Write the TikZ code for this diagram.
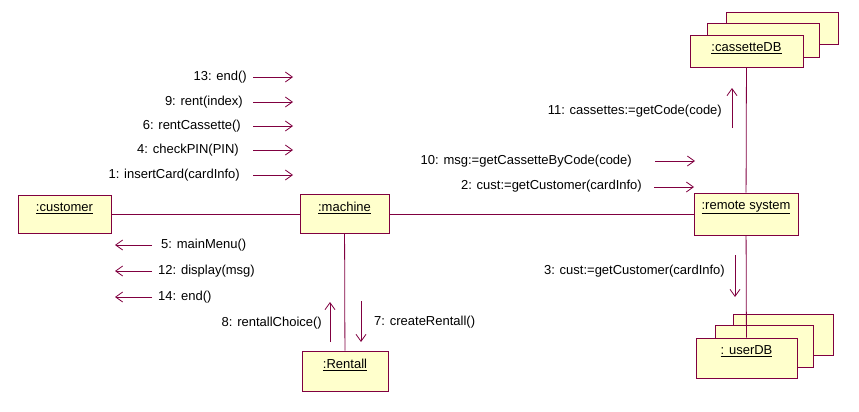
\documentclass[tikz,border=0pt]{standalone}
\usepackage{fontspec}
\setmainfont{Liberation Sans}
\usetikzlibrary{arrows.meta}
\definecolor{umlline}{HTML}{800040}
\definecolor{umlfill}{HTML}{FFFFCC}
\newcommand{\objname}[1]{\underline{#1}}

\begin{document}
\begin{tikzpicture}[x=1pt,y=-1pt,font=\fontsize{13}{15}\selectfont,
    >={Straight Barb[length=7pt,width=10pt]},
    obj node/.style={rectangle,draw=umlline,fill=umlfill,line width=0.8pt,inner sep=0pt},
    back box/.style={draw=umlline,fill=umlfill,line width=0.8pt},
    top label/.style={anchor=north,yshift=-5pt,inner sep=3pt},
    link/.style={draw=umlline,line width=0.8pt},
    msg/.style={->,draw=umlline,line width=0.8pt},
    lbl/.style={inner sep=0pt}]
      \useasboundingbox (0,0) rectangle (859,412);

      % objects
      \node[obj node,minimum width=93,minimum height=38,
        label={[top label]north:\objname{:customer}}] (cust) at (64.5,214) {};
      \node[obj node,minimum width=89,minimum height=39,
        label={[top label]north:\objname{:machine}}] (mach) at (344.5,214) {};
      \node[obj node,minimum width=104,minimum height=42,
        label={[top label]north:\objname{:remote system}}] (remote) at (746,214) {};
      \node[obj node,minimum width=86,minimum height=40,
        label={[top label]north:\objname{:Rentall}}] (rentall) at (345,371) {};

      \draw[back box] (726,12) rectangle (838,44);
      \draw[back box] (707,23) rectangle (819,57);
      \node[obj node,minimum width=113,minimum height=32,
        label={[top label]north:\objname{:cassetteDB}}] (cassdb) at (746.5,51) {};

      \draw[back box] (733,314) rectangle (833,355);
      \draw[back box] (715,325) rectangle (813,367);
      \node[obj node,minimum width=101,minimum height=40,
        label={[top label]north:\objname{: userDB}}] (userdb) at (746.5,358) {};

      % links
      \path[link]
        (cust) edge (mach)
        (mach) edge (remote)
        (mach) edge (rentall)
        (remote) edge (cassdb)
        (remote) edge (userdb);

      % message ends
      \coordinate (a13) at (253,77);  \coordinate (b13) at (293,77);
      \coordinate (a9) at (253,102);  \coordinate (b9) at (293,102);
      \coordinate (a6) at (253,126);  \coordinate (b6) at (293,126);
      \coordinate (a4) at (253,150);  \coordinate (b4) at (293,150);
      \coordinate (a1) at (253,175);  \coordinate (b1) at (293,175);
      \coordinate (a5) at (152,245);  \coordinate (b5) at (115,245);
      \coordinate (a12) at (152,271); \coordinate (b12) at (115,271);
      \coordinate (a14) at (152,297); \coordinate (b14) at (115,297);
      \coordinate (a8) at (330,342);  \coordinate (b8) at (330,302);
      \coordinate (a7) at (361,301);  \coordinate (b7) at (361,342);
      \coordinate (a10) at (655,161); \coordinate (b10) at (695,161);
      \coordinate (a2) at (654,187);  \coordinate (b2) at (694,187);
      \coordinate (a11) at (732,128); \coordinate (b11) at (732,88);
      \coordinate (c3) at (735,255);  \coordinate (d3) at (735,297);

      % messages
      \draw[msg] (a13) -- (b13);
      \draw[msg] (a9) -- (b9);
      \draw[msg] (a6) -- (b6);
      \draw[msg] (a4) -- (b4);
      \draw[msg] (a1) -- (b1);
      \draw[msg] (a5) -- (b5);
      \draw[msg] (a12) -- (b12);
      \draw[msg] (a14) -- (b14);
      \draw[msg] (a8) -- (b8);
      \draw[msg] (a7) -- (b7);
      \draw[msg] (a10) -- (b10);
      \draw[msg] (a2) -- (b2);
      \draw[msg] (a11) -- (b11);
      \draw[msg] (c3) -- (d3);

      \node[lbl,anchor=east] (t13) at (247,77) {13: end()};
      \node[lbl,anchor=east] (t9) at (243,102) {9: rent(index)};
      \node[lbl,anchor=east] (t6) at (241,126) {6: rentCassette()};
      \node[lbl,anchor=east] (t4) at (239,150) {4: checkPIN(PIN)};
      \node[lbl,anchor=east] (t1) at (240,175) {1: insertCard(cardInfo)};
      \node[lbl,anchor=west] (t5) at (161,245) {5: mainMenu()};
      \node[lbl,anchor=west] (t12) at (158,271) {12: display(msg)};
      \node[lbl,anchor=west] (t14) at (158,297) {14: end()};
      \node[lbl,anchor=east] (t8) at (322,323) {8: rentallChoice()};
      \node[lbl,anchor=west] (t7) at (374,322) {7: createRentall()};
      \node[lbl,anchor=east] (t10) at (632,161) {10: msg:=getCassetteByCode(code)};
      \node[lbl,anchor=east] (t2) at (642,186) {2: cust:=getCustomer(cardInfo)};
      \node[lbl,anchor=east] (t11) at (722,111) {11: cassettes:=getCode(code)};
      \node[lbl,anchor=east] (t3) at (725,271) {3: cust:=getCustomer(cardInfo)};

    \end{tikzpicture}
\end{document}
